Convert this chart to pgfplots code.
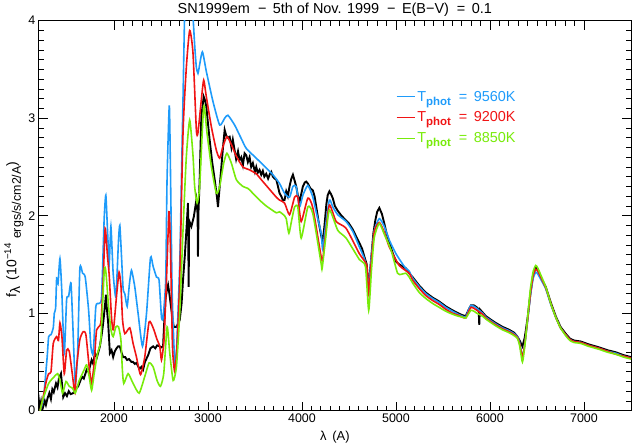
\documentclass[border=0pt]{standalone}
\usepackage{fontspec}
\setmainfont{Liberation Sans}
\usepackage{pgfplots}
\pgfplotsset{compat=1.18}
\definecolor{cblue}{RGB}{30,155,250}
\definecolor{cred}{RGB}{240,20,20}
\definecolor{cgreen}{RGB}{120,235,10}
\begin{document}
\begin{tikzpicture}
\begin{axis}[
  name=ax,
  scale only axis, width=592.3bp, height=390bp,
  xmin=1200, xmax=7500, ymin=0, ymax=4,
  xtick={2000,3000,4000,5000,6000,7000},
  ytick={0,1,2,3,4},
  minor x tick num=9, minor y tick num=9,
  tick align=inside,
  major tick length=9bp, minor tick length=5bp,
  /pgf/number format/assume math mode=true,
  /pgf/number format/set thousands separator={},
  tick label style={font=\fontsize{12.5}{14}\selectfont},
  axis line style={line width=0.8bp},
  every tick/.style={black, line width=0.6bp},
  title={SN1999em \ −\ \,5th of Nov. 1999 \ −\ \,E(B−V) \ =\ \,0.1},
  title style={font=\fontsize{14.5}{16}\selectfont, yshift=-5bp},
  xlabel={λ \,(A)},
  xlabel style={font=\fontsize{13}{14}\selectfont, yshift=-1bp},
  ylabel={f\raisebox{-0.5ex}{λ} \,(10\textsuperscript{−14} \raisebox{-0.6ex}{\fontsize{12.5}{14}\selectfont ergs/s/cm2/A})},
  ylabel style={font=\fontsize{14}{16}\selectfont, at={(ticklabel cs:0.465)}, yshift=-2bp},
  legend cell align=left,
  legend image code/.code={\draw[#1, line width=1.1bp] (0bp,0bp) -- (18bp,0bp);},
  legend style={draw=none, fill=none, at={(axis cs:5000,3.30)}, anchor=north west,
    font=\fontsize{14.5}{16}\selectfont, row sep=5bp, inner sep=0pt},
]
% observed spectrum
\addplot[black, line width=1.9bp, forget plot] coordinates {
(1190,0.08)(1200,0.12)(1210,0.02)(1224,0.09)(1235,0.00)(1250,0.05)(1265,0.10)(1277,0.06)(1295,0.13)(1313,0.18)(1330,0.12)(1345,0.22)(1360,0.19)(1384,0.28)(1400,0.24)(1415,0.33)(1437,0.38)(1450,0.25)(1461,0.14)(1480,0.18)(1500,0.15)(1520,0.20)(1540,0.17)(1567,0.18)(1590,0.22)(1620,0.25)(1640,0.30)(1660,0.35)(1680,0.33)(1710,0.42)(1730,0.40)(1763,0.52)(1780,0.48)(1798,0.59)(1820,0.55)(1851,0.66)(1870,0.78)(1886,0.90)(1907,1.10)(1915,1.19)(1925,1.05)(1939,0.90)(1957,0.59)(1975,0.62)(1992,0.55)(2010,0.61)(2028,0.64)(2045,0.66)(2063,0.66)(2080,0.60)(2098,0.55)(2120,0.55)(2140,0.52)(2160,0.53)(2187,0.50)(2204,0.50)(2222,0.48)(2240,0.49)(2260,0.45)(2275,0.43)(2293,0.45)(2310,0.42)(2330,0.50)(2364,0.57)(2389,0.64)(2417,0.66)(2440,0.64)(2460,0.67)(2488,0.66)(2506,0.65)(2523,0.66)(2535,0.90)(2548,1.14)(2565,1.25)(2576,1.29)(2590,1.20)(2612,1.03)(2636,0.86)(2665,0.86)(2700,0.93)(2720,1.10)(2735,1.34)(2755,1.60)(2771,1.85)(2788,2.13)(2795,1.27)(2800,1.95)(2824,1.89)(2850,1.99)(2877,2.16)(2890,2.02)(2894,1.58)(2900,2.05)(2912,2.37)(2930,3.02)(2955,3.22)(2970,3.18)(2983,3.12)(3000,2.95)(3018,2.78)(3045,2.55)(3072,2.37)(3095,2.20)(3107,2.09)(3125,2.30)(3143,2.50)(3160,2.70)(3178,2.88)(3195,2.82)(3213,2.80)(3231,2.81)(3250,2.70)(3265,2.78)(3284,2.67)(3300,2.58)(3320,2.66)(3337,2.57)(3355,2.60)(3372,2.52)(3390,2.64)(3408,2.62)(3425,2.55)(3443,2.60)(3460,2.50)(3478,2.54)(3500,2.45)(3514,2.50)(3530,2.44)(3549,2.47)(3567,2.42)(3584,2.46)(3600,2.40)(3620,2.43)(3640,2.38)(3660,2.43)(3673,2.45)(3691,2.40)(3710,2.38)(3727,2.37)(3745,2.30)(3762,2.23)(3780,2.20)(3797,2.16)(3815,2.16)(3833,2.25)(3850,2.20)(3868,2.30)(3887,2.38)(3904,2.42)(3922,2.36)(3939,2.30)(3956,2.21)(3974,2.14)(3992,2.22)(4010,2.30)(4030,2.34)(4045,2.35)(4063,2.33)(4090,2.28)(4116,2.26)(4134,2.20)(4151,2.10)(4175,1.95)(4204,1.80)(4221,1.73)(4240,1.90)(4260,2.12)(4274,2.21)(4292,2.25)(4310,2.22)(4328,2.18)(4350,2.10)(4381,2.05)(4420,2.00)(4470,1.95)(4500,1.92)(4540,1.86)(4580,1.78)(4611,1.72)(4640,1.66)(4664,1.58)(4689,1.50)(4700,1.35)(4710,1.28)(4722,1.40)(4740,1.60)(4760,1.82)(4780,1.95)(4800,2.04)(4823,2.08)(4850,2.02)(4876,1.92)(4900,1.82)(4929,1.73)(4964,1.62)(5000,1.53)(5035,1.50)(5070,1.48)(5106,1.46)(5141,1.41)(5177,1.37)(5250,1.28)(5319,1.21)(5390,1.16)(5460,1.12)(5530,1.07)(5601,1.03)(5660,1.00)(5706,0.98)(5742,0.97)(5770,1.03)(5797,1.08)(5830,1.08)(5860,1.06)(5880,1.03)(5886,0.88)(5892,1.04)(5920,1.01)(5956,0.97)(6000,0.94)(6062,0.90)(6133,0.86)(6204,0.83)(6257,0.80)(6292,0.76)(6315,0.72)(6345,0.66)(6370,0.75)(6400,0.95)(6430,1.20)(6460,1.40)(6487,1.47)(6510,1.44)(6550,1.35)(6593,1.27)(6650,1.10)(6699,0.97)(6750,0.86)(6805,0.79)(6850,0.74)(6893,0.72)(6965,0.71)(7050,0.68)(7159,0.65)(7250,0.62)(7336,0.60)(7420,0.57)(7500,0.55)
};
% T = 9560 K
\addplot[cblue, line width=1.6bp, smooth, tension=0.35] coordinates {
(1215,0.00)(1250,0.12)(1290,0.55)(1306,0.76)(1331,0.78)(1355,0.85)(1366,1.00)(1380,1.05)(1391,1.36)(1405,1.30)(1426,1.56)(1445,1.24)(1472,0.59)(1497,1.14)(1518,1.17)(1543,1.31)(1561,0.93)(1589,0.28)(1614,0.59)(1638,1.46)(1667,1.41)(1695,1.37)(1731,1.03)(1755,0.66)(1780,0.59)(1808,1.07)(1843,1.10)(1869,1.17)(1896,1.96)(1914,2.21)(1932,1.85)(1950,1.51)(1968,1.89)(1992,1.41)(2021,1.17)(2049,1.75)(2063,1.90)(2081,1.58)(2098,1.25)(2116,1.20)(2141,1.07)(2165,1.30)(2187,1.44)(2222,1.27)(2257,1.00)(2304,0.66)(2347,1.00)(2389,1.57)(2417,1.48)(2453,1.37)(2480,1.34)(2506,0.96)(2523,0.96)(2551,1.34)(2565,2.36)(2589,3.13)(2601,2.50)(2620,1.20)(2647,0.49)(2665,0.60)(2700,1.50)(2718,2.37)(2735,3.20)(2753,4.10)(2771,4.40)(2806,4.50)(2824,4.30)(2841,4.05)(2859,3.75)(2877,3.52)(2894,3.46)(2905,3.51)(2941,3.68)(2983,3.48)(3054,3.17)(3125,2.93)(3178,3.00)(3213,3.03)(3284,2.93)(3355,2.79)(3408,2.69)(3514,2.59)(3620,2.49)(3691,2.42)(3762,2.33)(3815,2.23)(3868,2.19)(3904,2.30)(3939,2.30)(3974,2.09)(4010,2.21)(4063,2.31)(4116,2.19)(4151,2.04)(4204,1.82)(4221,1.65)(4250,1.89)(4292,2.16)(4328,2.09)(4381,2.01)(4470,1.94)(4540,1.84)(4611,1.68)(4664,1.56)(4690,1.45)(4710,1.27)(4735,1.55)(4770,1.85)(4823,1.97)(4876,1.89)(4929,1.75)(5000,1.61)(5088,1.48)(5141,1.43)(5177,1.36)(5250,1.27)(5319,1.20)(5390,1.15)(5460,1.11)(5530,1.06)(5601,1.02)(5660,0.99)(5706,0.97)(5742,0.96)(5770,1.03)(5797,1.08)(5830,1.07)(5860,1.05)(5920,1.00)(5956,0.96)(6000,0.93)(6062,0.89)(6133,0.85)(6204,0.82)(6257,0.79)(6292,0.76)(6315,0.70)(6345,0.56)(6370,0.68)(6400,0.92)(6430,1.18)(6460,1.36)(6487,1.42)(6510,1.40)(6550,1.33)(6593,1.25)(6650,1.08)(6699,0.96)(6750,0.85)(6805,0.78)(6850,0.73)(6893,0.71)(6965,0.70)(7050,0.67)(7159,0.64)(7250,0.61)(7336,0.59)(7420,0.56)(7500,0.54)
};
\addlegendentry{\textcolor{cblue}{T\raisebox{-0.5ex}{\textbf{\fontsize{11.5}{12}\selectfont phot}} \ =\ \,9560K}}
% T = 9200 K
\addplot[cred, line width=1.6bp, smooth, tension=0.35] coordinates {
(1215,0.00)(1242,0.11)(1280,0.30)(1306,0.38)(1331,0.40)(1355,0.69)(1391,0.76)(1410,0.72)(1426,0.90)(1447,0.76)(1472,0.38)(1497,0.62)(1525,0.61)(1561,0.35)(1585,0.18)(1603,0.45)(1638,0.73)(1673,0.81)(1702,0.78)(1737,0.45)(1763,0.28)(1790,0.49)(1816,0.83)(1861,0.90)(1886,1.34)(1907,1.87)(1932,1.58)(1950,1.39)(1975,0.95)(1995,0.83)(2030,1.20)(2055,1.42)(2075,1.28)(2092,0.93)(2116,0.79)(2169,0.85)(2204,0.69)(2240,0.55)(2283,0.37)(2328,0.55)(2374,0.91)(2417,0.85)(2459,0.73)(2488,0.66)(2506,0.52)(2533,0.73)(2559,1.34)(2586,2.04)(2601,1.68)(2623,0.66)(2647,0.40)(2671,0.66)(2700,1.34)(2735,2.85)(2771,3.53)(2806,3.90)(2841,3.67)(2877,2.88)(2894,2.85)(2930,3.19)(2955,3.39)(2983,3.22)(3037,2.91)(3090,2.67)(3125,2.59)(3160,2.71)(3202,2.81)(3249,2.73)(3302,2.61)(3372,2.50)(3443,2.47)(3514,2.43)(3567,2.37)(3620,2.31)(3727,2.19)(3762,2.16)(3815,2.13)(3868,2.01)(3922,2.19)(3956,2.19)(3992,1.94)(4063,2.18)(4116,2.08)(4204,1.58)(4221,1.55)(4250,1.80)(4292,2.11)(4364,1.94)(4470,1.87)(4611,1.61)(4689,1.49)(4710,1.20)(4735,1.50)(4770,1.84)(4823,1.93)(4876,1.83)(4929,1.68)(5035,1.49)(5141,1.41)(5177,1.34)(5250,1.25)(5319,1.18)(5390,1.13)(5460,1.09)(5530,1.04)(5601,1.00)(5660,0.98)(5706,0.96)(5742,0.95)(5770,1.01)(5797,1.06)(5830,1.05)(5860,1.03)(5920,0.99)(5956,0.95)(6000,0.92)(6062,0.88)(6133,0.84)(6204,0.81)(6257,0.78)(6292,0.75)(6315,0.69)(6345,0.55)(6370,0.68)(6400,0.93)(6430,1.20)(6460,1.39)(6487,1.45)(6510,1.43)(6550,1.35)(6593,1.26)(6650,1.09)(6699,0.96)(6750,0.85)(6805,0.78)(6850,0.73)(6893,0.71)(6965,0.70)(7050,0.67)(7159,0.64)(7250,0.61)(7336,0.58)(7420,0.56)(7500,0.54)
};
\addlegendentry{\textcolor{cred}{T\raisebox{-0.5ex}{\textbf{\fontsize{11.5}{12}\selectfont phot}} \ =\ \,9200K}}
% T = 8850 K
\addplot[cgreen, line width=1.6bp, smooth, tension=0.35] coordinates {
(1215,0.00)(1242,0.11)(1306,0.28)(1366,0.35)(1402,0.38)(1426,0.31)(1455,0.18)(1490,0.30)(1525,0.25)(1561,0.23)(1589,0.18)(1631,0.31)(1684,0.42)(1710,0.47)(1737,0.35)(1763,0.21)(1790,0.38)(1826,0.59)(1861,0.73)(1897,1.43)(1914,1.43)(1943,1.07)(1968,0.83)(1992,0.76)(2021,0.86)(2049,0.86)(2074,0.73)(2090,0.42)(2105,0.28)(2151,0.38)(2204,0.28)(2268,0.18)(2328,0.35)(2374,0.49)(2417,0.45)(2459,0.31)(2495,0.25)(2530,0.38)(2566,0.86)(2594,0.59)(2630,0.31)(2665,0.45)(2700,1.00)(2735,1.85)(2770,2.60)(2806,2.98)(2841,2.62)(2859,2.30)(2885,2.13)(2912,2.30)(2955,3.12)(2990,2.85)(3037,2.50)(3090,2.23)(3125,2.30)(3168,2.54)(3202,2.64)(3249,2.54)(3302,2.37)(3372,2.30)(3425,2.28)(3478,2.23)(3549,2.16)(3620,2.10)(3727,2.03)(3762,2.04)(3815,2.00)(3833,1.97)(3861,1.82)(3890,1.95)(3922,2.09)(3956,2.09)(3992,1.77)(4063,2.09)(4116,2.02)(4204,1.51)(4215,1.46)(4250,1.75)(4292,2.06)(4381,1.85)(4470,1.77)(4611,1.55)(4675,1.48)(4710,1.03)(4740,1.45)(4770,1.78)(4823,1.92)(4880,1.80)(4947,1.65)(5017,1.41)(5060,1.40)(5106,1.41)(5141,1.37)(5177,1.31)(5250,1.21)(5319,1.15)(5390,1.10)(5460,1.06)(5530,1.02)(5601,0.99)(5660,0.97)(5706,0.96)(5742,0.95)(5770,0.99)(5797,1.03)(5830,1.02)(5860,1.00)(5920,0.97)(5956,0.94)(6000,0.91)(6062,0.87)(6133,0.83)(6204,0.80)(6257,0.77)(6292,0.74)(6315,0.67)(6345,0.50)(6370,0.66)(6400,0.95)(6430,1.25)(6460,1.43)(6487,1.49)(6510,1.46)(6550,1.37)(6593,1.27)(6650,1.09)(6699,0.96)(6750,0.85)(6805,0.77)(6850,0.72)(6893,0.70)(6965,0.69)(7050,0.66)(7159,0.63)(7250,0.60)(7336,0.58)(7420,0.55)(7500,0.53)
};
\addlegendentry{\textcolor{cgreen}{T\raisebox{-0.5ex}{\textbf{\fontsize{11.5}{12}\selectfont phot}} \ =\ \,8850K}}
\end{axis}
\pgfresetboundingbox
\path ([shift={(-38.7bp,-37.3bp)}]ax.south west) rectangle ([shift={(1bp,20.7bp)}]ax.north east);
\end{tikzpicture}
\end{document}
